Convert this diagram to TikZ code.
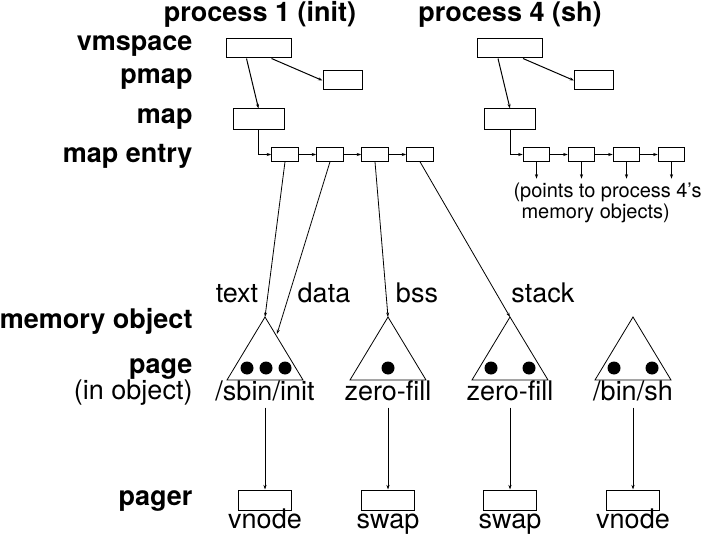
\documentclass[tikz,border=0pt]{standalone}
\usepackage{fontspec}
\setmainfont{TeX Gyre Heros}
\usetikzlibrary{positioning,arrows.meta}

\tikzset{
  rowlabel/.style={anchor=base east, inner sep=0pt, font=\bfseries\fontsize{27}{30}\selectfont},
  head/.style={anchor=base, inner sep=0pt, font=\bfseries\fontsize{27}{30}\selectfont},
  txt/.style={anchor=base, inner sep=0pt, font=\fontsize{27}{30}\selectfont},
  objname/.style={txt, text depth=7pt},
  note/.style={anchor=base west, inner sep=0pt, font=\fontsize{20}{22}\selectfont},
  vmbox/.style={draw, minimum width=65pt, minimum height=19pt, inner sep=0pt},
  pmbox/.style={draw, minimum width=39pt, minimum height=19pt, inner sep=0pt},
  mapbox/.style={draw, minimum width=51pt, minimum height=20pt, inner sep=0pt},
  entry/.style={draw, minimum width=26.5pt, minimum height=13.5pt, inner sep=0pt},
  pgbox/.style={draw, minimum width=53pt, minimum height=20pt, inner sep=0pt}
}

\begin{document}
\begin{tikzpicture}[x=1pt, y=-1pt, line width=1pt, >={Stealth[length=4.5pt,width=3pt]}]
  \useasboundingbox (0,0) rectangle (702,535);

  % Row labels
  \node[rowlabel] (lvm) at (193,51) {vmspace};
  \node[rowlabel] (lpm) at (193,84) {pmap};
  \node[rowlabel] (lmap) at (193,123) {map};
  \node[rowlabel] (lent) at (193,162) {map entry};
  \node[rowlabel] (lobj) at (193,328) {memory object};
  \node[rowlabel] (lpage) at (193,373) {page};
  \node[txt, anchor=base east] (linobj) at (193,399) {(in object)};
  \node[rowlabel] (lpgr) at (193,505) {pager};

  % Process headers
  \node[head] (proc1) at (260,22) {process 1 (init)};
  \node[head] (proc4) at (510,22) {process 4 (sh)};

  % vmspace, pmap, map and map entries of both processes
  \foreach \p/\dx in {1/0, 4/251.5} {
    \node[vmbox] (vm\p) at ({258.5+\dx},48.5) {};
    \node[pmbox] (pm\p) at ({342.5+\dx},80.5) {};
    \node[mapbox] (map\p) at ({258.5+\dx},119) {};
    \foreach \i in {1,...,4}
      \node[entry] (e\p\i) at ({285+45*(\i-1)+\dx},154.5) {};
    \draw[->] ([xshift=-12pt]vm\p.south) -- (map\p.north);
    \draw[->] ([xshift=13pt]vm\p.south) -- (pm\p.west);
    \draw[->] (map\p.south) |- (e\p1.west);
    \foreach \i/\j in {1/2, 2/3, 3/4}
      \draw[->] (e\p\i) -- (e\p\j);
  }

  % Process 4 pointers
  \foreach \i in {1,...,4}
    \draw[->] (e4\i.south) -- ++(0,17);
  \node[note] (note1) at (513,197) {\makebox[188pt][s]{(points to process 4's}};
  \node[note] (note2) at (521,218) {memory objects)};

  % Memory objects and their pages
  \foreach \n/\x in {1/265, 2/388, 3/510, 4/633} {
    \coordinate (obj\n) at (\x,317);
    \draw[line width=0.8pt] (obj\n) -- ++(-38,63) -- ++(76,0) -- cycle;
  }
  \coordinate (obj1side) at (277,334);
  \foreach \x in {247,266,285,388,491,529,614,652}
    \fill (\x,368) circle (6.5pt);

  % Mappings from process 1
  \draw[->, line width=0.8pt] (e11.south) -- (obj1);
  \draw[->, line width=0.8pt] (e12.south) -- (obj1side);
  \draw[->, line width=0.8pt] (e13.south) -- (obj2);
  \draw[->, line width=0.8pt] (e14.south) -- (obj3);
  \node[txt] (ltext) at (237,302) {text};
  \node[txt] (ldata) at (324,302) {data};
  \node[txt] (lbss) at (417,302) {bss};
  \node[txt] (lstack) at (543,302) {stack};

  % Object names
  \node[objname] (name1) at (265,400) {/sbin/init};
  \node[objname] (name2) at (388,400) {zero-fill};
  \node[objname] (name3) at (510,400) {zero-fill};
  \node[objname] (name4) at (633,400) {/bin/sh};

  % Pagers
  \node[pgbox] (pg1) at (265,500) {};
  \node[pgbox] (pg2) at (388,500) {};
  \node[pgbox] (pg3) at (510,500) {};
  \node[pgbox] (pg4) at (633,500) {};
  \node[txt] (pgn1) at (265,528) {vnode};
  \node[txt] (pgn2) at (388,528) {swap};
  \node[txt] (pgn3) at (510,528) {swap};
  \node[txt] (pgn4) at (633,528) {vnode};
  \foreach \n in {1,...,4}
    \draw[->, line width=0.8pt] (name\n.south) -- (pg\n.north);

\end{tikzpicture}
\end{document}
